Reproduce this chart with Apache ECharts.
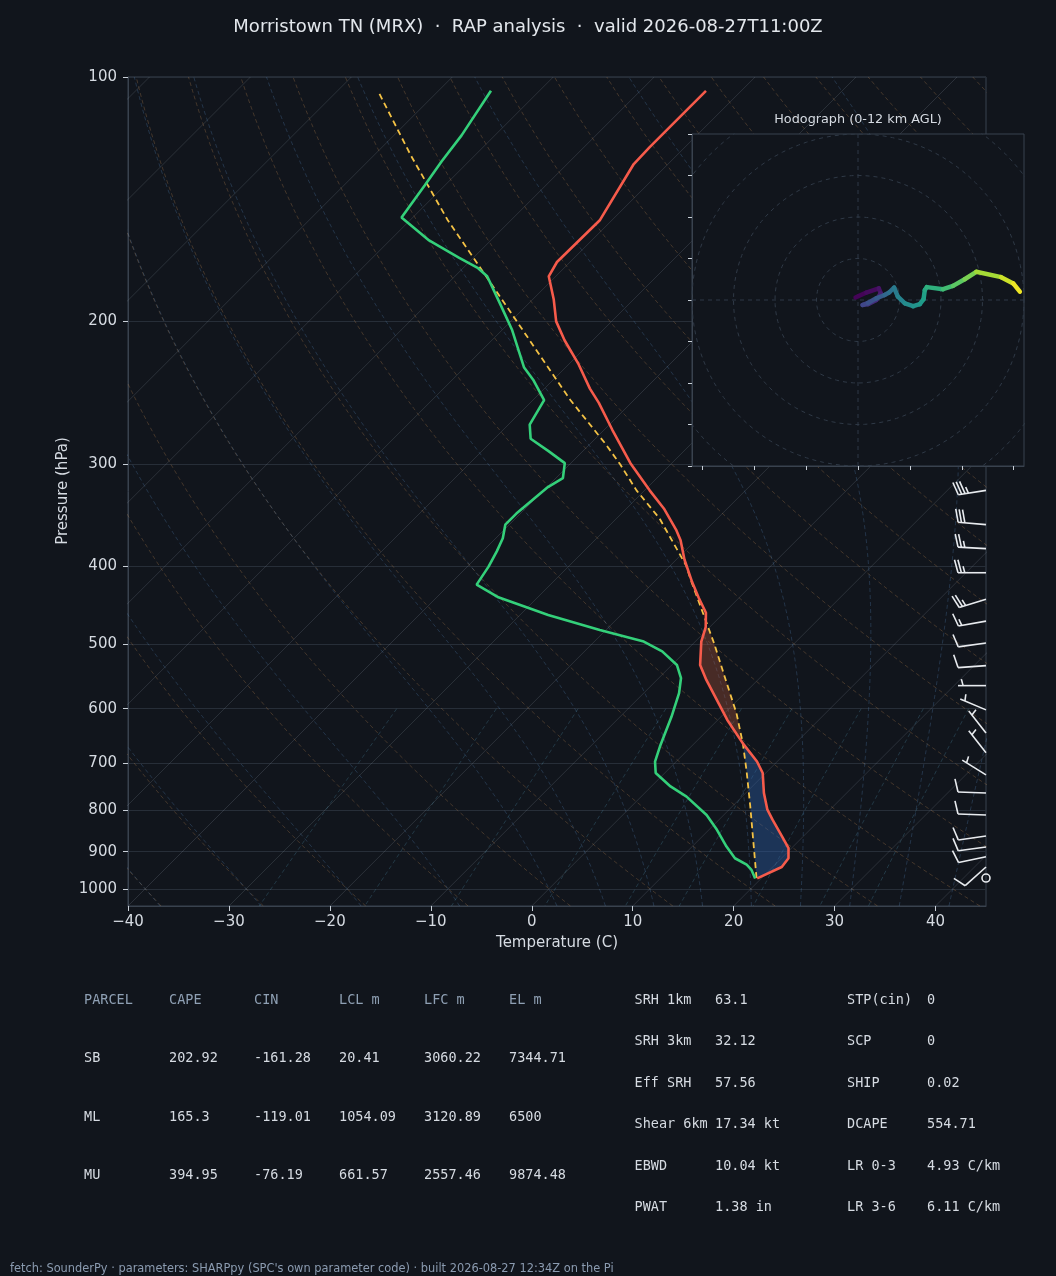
<!DOCTYPE html>
<html>
<head>
<meta charset="utf-8">
<title>Skew-T MRX</title>
<script src="https://cdn.jsdelivr.net/npm/echarts@6/dist/echarts.min.js"></script>
<style>
  html, body { margin: 0; padding: 0; background: #11151c; }
  #main { width: 1056px; height: 1276px; }
</style>
</head>
<body>
<div id="main"></div>
<script>
// --- sounding (hPa / degC) ---
var tempP = [104, 122, 128, 150, 169, 176, 188, 200, 211, 226, 242, 252, 272, 299, 323, 340, 361, 372, 393, 419, 438, 457, 476, 496, 530, 553, 619, 662, 697, 720, 762, 799, 822, 862, 891, 917, 940, 971];
var tempT = [-63.5, -63.5, -63.4, -61.2, -61.3, -60.7, -57.9, -55.5, -52.8, -49.0, -45.5, -43.2, -39.2, -34.1, -29.5, -26.3, -23.0, -21.5, -19.2, -16.2, -14.0, -11.8, -10.4, -9.4, -7.2, -5.1, 0.9, 4.8, 8.0, 9.7, 11.8, 13.8, 15.3, 17.9, 19.7, 20.7, 20.9, 19.6];

var dwptP = [104, 118, 127, 136, 149, 159, 167, 172, 176, 191, 205, 228, 236, 250, 268, 279, 289, 299, 312, 320, 345, 356, 370, 384, 401, 422, 437, 449, 460, 480, 496, 510, 530, 550, 574, 614, 668, 697, 720, 748, 770, 811, 846, 887, 917, 934, 948, 971];
var dwptT = [-84.8, -83.3, -82.7, -82.0, -81.1, -76.1, -71.4, -68.5, -66.8, -62.6, -59.0, -54.1, -52.0, -48.9, -47.9, -46.4, -43.4, -40.6, -39.3, -39.9, -40.4, -40.4, -39.3, -38.6, -37.9, -37.3, -34.0, -30.4, -27.2, -20.6, -15.1, -12.3, -9.5, -7.8, -6.5, -4.9, -3.1, -2.1, -0.9, 1.9, 4.5, 8.3, 10.8, 13.4, 15.4, 17.2, 18.2, 19.4];

var parcelP = [970, 887, 792, 714, 662, 608, 548, 498, 458, 416, 400, 350, 323, 300, 283, 250, 200, 150, 125, 104];
var parcelT = [19.5, 16.1, 11.8, 7.8, 4.8, 1.2, -3.6, -8.0, -12.0, -16.6, -18.4, -25.7, -30.8, -35.0, -38.5, -46.3, -59.4, -76.3, -86.3, -96.0];

// shading limits (hPa): surface, LFC, EL
var pSfc = 970, pLFC = 662, pEL = 478;

// wind barbs (hPa, kt, deg from)
var barbP = [323, 356, 381, 408, 440, 468, 498, 531, 562, 602, 643, 680, 724, 762, 811, 861, 888, 913, 940, 970];
var barbSpd = [35, 30, 25, 25, 25, 15, 10, 10, 5, 5, 5, 5, 5, 10, 10, 10, 10, 10, 10, 0];
var barbDir = [261, 275, 273, 270, 253, 260, 262, 266, 270, 293, 322, 322, 302, 272, 272, 262, 262, 258, 228, 0];

// hodograph (kt, km AGL)
var hodoU = [-0.6, 2.0, 5.0, 5.5, 4.4, 2.4, 1.1, 2.4, 4.4, 6.4, 7.5, 8.7, 9.6, 11.3, 13.3, 14.9, 15.8, 16.1, 16.6, 20.5, 22.9, 25.7, 28.5, 34.5, 37.4, 39.0];
var hodoV = [0.6, 1.8, 2.8, 1.6, 0.0, -1.0, -1.2, -0.7, 0.4, 1.2, 1.8, 3.0, 0.8, -0.8, -1.5, -1.0, 0.2, 2.4, 3.1, 2.6, 3.4, 5.0, 6.8, 5.5, 4.0, 2.0];
var hodoH = [0, 0.2, 0.5, 0.8, 1.3, 1.8, 2.3, 2.8, 3.2, 3.7, 4.2, 4.7, 5.2, 5.6, 6.0, 6.3, 6.6, 7.0, 7.3, 8.0, 8.6, 9.2, 9.9, 10.8, 11.4, 12.0];
var hodoRings = [10, 20, 30, 40, 50];
var hodoXTicks = [-37.5, -25, -12.5, 0, 12.5, 25, 37.5];

var pTicks = [100, 200, 300, 400, 500, 600, 700, 800, 900, 1000];
var tTicks = [-40, -30, -20, -10, 0, 10, 20, 30, 40];

// tables
var parcelCols = ['PARCEL', 'CAPE', 'CIN', 'LCL m', 'LFC m', 'EL m'];
var parcelRows = [
  ['SB', '202.92', '-161.28', '20.41', '3060.22', '7344.71'],
  ['ML', '165.3', '-119.01', '1054.09', '3120.89', '6500'],
  ['MU', '394.95', '-76.19', '661.57', '2557.46', '9874.48']
];
var paramsA = [['SRH 1km', '63.1'], ['SRH 3km', '32.12'], ['Eff SRH', '57.56'], ['Shear 6km', '17.34 kt'], ['EBWD', '10.04 kt'], ['PWAT', '1.38 in']];
var paramsB = [['STP(cin)', '0'], ['SCP', '0'], ['SHIP', '0.02'], ['DCAPE', '554.71'], ['LR 0-3', '4.93 C/km'], ['LR 3-6', '6.11 C/km']];

var titleText = 'Morristown TN (MRX)  \u00b7  RAP analysis  \u00b7  valid 2026-08-27T11:00Z';
var footText = "fetch: SounderPy \u00b7 parameters: SHARPpy (SPC's own parameter code) \u00b7 built 2026-08-27 12:34Z on the Pi";

// ------------------------------------------------------------------
var chart = echarts.init(document.getElementById('main'));

var BG = '#11151c', FRAME = '#39424e', TICK = '#c9d0d8', LABEL = '#d6dbe2';
var P_BOT = 1050, P_TOP = 100, T_MIN = -40, T_MAX = 45;
// skew so isotherms run at 45 deg on the 858 x 829 plot box
var SKEW = (T_MAX - T_MIN) * (829 / 858) / Math.log10(P_BOT / P_TOP);
function sx(t, p) { return t + SKEW * Math.log10(P_BOT / p); }
function pts(ps, ts) { return ps.map(function (p, i) { return [sx(ts[i], p), p]; }); }

// thermodynamic reference lines (diagram furniture)
var Rd = 287.04749, Cp = 1004.6662, Lv = 2.50084e6, EPS = 0.62195;
function esat(tc) { return 6.112 * Math.exp(17.67 * tc / (tc + 243.5)); }
function moistRate(lnp, tk) {
  var p = Math.exp(lnp), es = esat(tk - 273.15), rs = EPS * es / (p - es);
  return (Rd * tk + Lv * rs) / (Cp + Lv * Lv * rs * EPS / (Rd * tk * tk));
}
function moistLine(t0) {
  function run(pEnd, n) {
    var out = [], tk = t0 + 273.15, lnp = Math.log(1000), h = (Math.log(pEnd) - lnp) / n;
    for (var i = 0; i < n; i++) {
      var k1 = moistRate(lnp, tk);
      var k2 = moistRate(lnp + h / 2, tk + h * k1 / 2);
      var k3 = moistRate(lnp + h / 2, tk + h * k2 / 2);
      var k4 = moistRate(lnp + h, tk + h * k3);
      tk += h * (k1 + 2 * k2 + 2 * k3 + k4) / 6;
      lnp += h;
      out.push([tk - 273.15, Math.exp(lnp)]);
    }
    return out;
  }
  var all = run(P_BOT, 4).reverse().concat([[t0, 1000]], run(P_TOP, 80));
  return all.map(function (d) { return [sx(d[0], d[1]), d[1]]; });
}
function dryLine(t0) {
  var out = [];
  for (var i = 0; i <= 60; i++) {
    var p = P_BOT * Math.pow(P_TOP / P_BOT, i / 60);
    out.push([sx((t0 + 273.15) * Math.pow(p / 1000, Rd / Cp) - 273.15, p), p]);
  }
  return out;
}
function mixLine(w) {
  var out = [];
  for (var i = 0; i <= 20; i++) {
    var p = 600 + (P_BOT - 600) * i / 20;
    var l = Math.log(w * p / (EPS + w) / 6.112);
    out.push([sx(243.5 * l / (17.67 - l), p), p]);
  }
  return out;
}

var series = [];
function addLine(data, color, type, width, z, gi) {
  series.push({
    type: 'line', xAxisIndex: gi || 0, yAxisIndex: gi || 0, data: data,
    symbol: 'none', showSymbol: false, silent: true, z: z || 1, clip: true,
    lineStyle: { color: color, width: width || 1, type: type || 'solid' }
  });
}

var t;
for (t = -130; t <= 40; t += 10) addLine([[sx(t, P_BOT), P_BOT], [sx(t, P_TOP), P_TOP]], 'rgba(150,160,175,0.2)', 'solid', 1);
for (t = -40; t <= 240; t += 10) addLine(dryLine(t), 'rgba(195,140,85,0.32)', [4, 3], 0.9);
var moistT0 = [-40, -30, -20, -10];
for (t = 0; t <= 95; t += 5) moistT0.push(t);
moistT0.forEach(function (t0) { addLine(moistLine(t0), 'rgba(90,140,195,0.3)', [4, 3], 0.9); });
[0.0004, 0.001, 0.002, 0.004, 0.007, 0.01, 0.016, 0.024, 0.032].forEach(function (w) {
  addLine(mixLine(w), 'rgba(80,145,175,0.32)', [4, 3], 0.9);
});

// CAPE / CIN shading between parcel and environment
function interpT(ps, ts, q) {
  for (var i = 0; i < ps.length - 1; i++) {
    var a = ps[i], b = ps[i + 1];
    if ((q - a) * (q - b) <= 0) {
      var f = Math.log(q / a) / Math.log(b / a);
      return ts[i] + f * (ts[i + 1] - ts[i]);
    }
  }
  return NaN;
}
function band(pLo, pHi) {
  var out = [[sx(interpT(parcelP, parcelT, pLo), pLo), pLo]];
  parcelP.forEach(function (p, i) { if (p < pLo && p > pHi) out.push([sx(parcelT[i], p), p]); });
  out.push([sx(interpT(parcelP, parcelT, pHi), pHi), pHi]);
  out.push([sx(interpT(tempP, tempT, pHi), pHi), pHi]);
  tempP.forEach(function (p, i) { if (p < pLo && p > pHi) out.push([sx(tempT[i], p), p]); });
  out.push([sx(interpT(tempP, tempT, pLo), pLo), pLo]);
  return out;
}
var fills = [
  { poly: band(pLFC, pEL), color: 'rgba(190,90,60,0.32)' },
  { poly: band(pSfc, pLFC), color: 'rgba(45,95,170,0.42)' }
];
series.push({
  type: 'custom', xAxisIndex: 0, yAxisIndex: 0, z: 2, silent: true,
  data: [[0, 550], [0, 800]],
  renderItem: function (params, api) {
    var f = fills[params.dataIndex];
    return {
      type: 'polygon',
      shape: { points: f.poly.map(function (d) { return api.coord(d); }) },
      style: { fill: f.color }
    };
  }
});

addLine(pts(parcelP, parcelT), '#f4c245', [6, 4], 1.8, 4);
addLine(pts(dwptP, dwptT), '#34d07a', 'solid', 2.6, 5);
addLine(pts(tempP, tempT), '#f65b4b', 'solid', 2.6, 5);

// wind barbs along the right edge
series.push({
  type: 'custom', xAxisIndex: 0, yAxisIndex: 0, z: 6, silent: true,
  data: barbP.map(function (p, i) { return [T_MAX, p, barbSpd[i], barbDir[i]]; }),
  renderItem: function (params, api) {
    var base = api.coord([api.value(0), api.value(1)]);
    var spd = Math.round(api.value(2) / 5) * 5, dir = api.value(3) * Math.PI / 180;
    var st = { stroke: '#e8ebef', lineWidth: 1.6, fill: null };
    if (spd < 5) return { type: 'circle', shape: { cx: base[0], cy: base[1], r: 4 }, style: st };
    var L = 28, H = 13, W = 3.5, S = 3.4;
    var ux = Math.sin(dir), uy = -Math.cos(dir);
    var px = -uy, py = ux;
    var tip = [base[0] + ux * L, base[1] + uy * L];
    var kids = [{ type: 'line', shape: { x1: base[0], y1: base[1], x2: tip[0], y2: tip[1] }, style: st }];
    var full = Math.floor(spd / 10), half = spd % 10 >= 5, off = 0, a;
    for (var k = 0; k < full; k++) {
      a = [tip[0] - ux * off, tip[1] - uy * off];
      kids.push({ type: 'line', shape: { x1: a[0], y1: a[1], x2: a[0] + px * H + ux * W, y2: a[1] + py * H + uy * W }, style: st });
      off += S;
    }
    if (half) {
      if (full === 0) off = 1.5 * S;
      a = [tip[0] - ux * off, tip[1] - uy * off];
      kids.push({ type: 'line', shape: { x1: a[0], y1: a[1], x2: a[0] + px * H / 2 + ux * W / 2, y2: a[1] + py * H / 2 + uy * W / 2 }, style: st });
    }
    return { type: 'group', children: kids };
  }
});

// hodograph
hodoRings.forEach(function (r) {
  var c = [];
  for (var i = 0; i <= 120; i++) { var a = i / 120 * 2 * Math.PI; c.push([r * Math.cos(a), r * Math.sin(a)]); }
  addLine(c, '#2f3946', [4, 4], 1, 12, 1);
});
addLine([[-40, 0], [40, 0]], '#2f3946', [4, 4], 1, 12, 1);
addLine([[0, -40], [0, 40]], '#2f3946', [4, 4], 1, 12, 1);

var VIRIDIS = ['#440154', '#482878', '#3e4989', '#31688e', '#26828e', '#1f9e89', '#35b779', '#6ece58', '#b5de2b', '#fde725'];
function viridis(f) {
  f = Math.max(0, Math.min(1, f)) * (VIRIDIS.length - 1);
  var i = Math.min(Math.floor(f), VIRIDIS.length - 2), r = f - i;
  function ch(h, k) { return parseInt(h.substr(1 + 2 * k, 2), 16); }
  var rgb = [0, 1, 2].map(function (k) { return Math.round(ch(VIRIDIS[i], k) * (1 - r) + ch(VIRIDIS[i + 1], k) * r); });
  return 'rgb(' + rgb.join(',') + ')';
}
var hodoSeg = [];
for (var i = 0; i < hodoU.length - 1; i++) {
  hodoSeg.push([hodoU[i], hodoV[i], hodoU[i + 1], hodoV[i + 1], (hodoH[i] + hodoH[i + 1]) / 2]);
}
series.push({
  type: 'custom', xAxisIndex: 1, yAxisIndex: 1, z: 13, silent: true,
  data: hodoSeg, encode: { x: [0, 2], y: [1, 3] },
  renderItem: function (params, api) {
    var a = api.coord([api.value(0), api.value(1)]), b = api.coord([api.value(2), api.value(3)]);
    return {
      type: 'line', shape: { x1: a[0], y1: a[1], x2: b[0], y2: b[1] },
      style: { stroke: viridis(api.value(4) / 12), lineWidth: 4.5, lineCap: 'round' }
    };
  }
});

// texts
function txt(x, y, s, o) {
  o = o || {};
  var al = o.align || 'left';
  return {
    type: 'text', x: x, y: y, rotation: o.rot || 0, silent: true, z: 50,
    style: {
      text: s, fill: o.color || LABEL,
      font: (o.size || 13) + 'px ' + (o.family || '"DejaVu Sans"'),
      textAlign: al, textVerticalAlign: 'middle', align: al, verticalAlign: 'middle'
    }
  };
}
var MONO = '"DejaVu Sans Mono"';
var texts = [
  txt(528, 27, titleText, { size: 18, align: 'center', color: '#e3e7ec' }),
  txt(858, 120, 'Hodograph (0-12 km AGL)', { size: 12.8, align: 'center' }),
  txt(63, 491, 'Pressure (hPa)', { size: 15, align: 'center', rot: Math.PI / 2 }),
  txt(557, 943, 'Temperature (C)', { size: 15, align: 'center' }),
  txt(10, 1269, footText, { size: 11.4, color: '#8b9bb0' })
];
var colX = [84, 169, 254, 339, 424, 509];
parcelCols.forEach(function (h, j) { texts.push(txt(colX[j], 1000, h, { size: 13.5, family: MONO, color: '#8fa0b4' })); });
parcelRows.forEach(function (row, r) {
  row.forEach(function (v, j) { texts.push(txt(colX[j], 1058.5 + r * 58.7, v, { size: 13.5, family: MONO })); });
});
paramsA.forEach(function (row, r) {
  texts.push(txt(634.5, 1000 + r * 41.5, row[0], { size: 13.5, family: MONO }));
  texts.push(txt(715, 1000 + r * 41.5, row[1], { size: 13.5, family: MONO }));
});
paramsB.forEach(function (row, r) {
  texts.push(txt(847, 1000 + r * 41.5, row[0], { size: 13.5, family: MONO }));
  texts.push(txt(927, 1000 + r * 41.5, row[1], { size: 13.5, family: MONO }));
});

var option = {
  backgroundColor: BG,
  animation: false,
  textStyle: { fontFamily: 'DejaVu Sans' },
  grid: [
    { left: 128, top: 77, width: 858, height: 829, show: true, borderColor: FRAME, borderWidth: 1, backgroundColor: 'transparent', z: 0 },
    { left: 692, top: 134, width: 332, height: 332, show: true, borderColor: FRAME, borderWidth: 1, backgroundColor: BG, z: 10 }
  ],
  xAxis: [
    {
      gridIndex: 0, type: 'value', min: T_MIN, max: T_MAX, interval: 10,
      axisLine: { show: true, onZero: false, lineStyle: { color: FRAME } },
      axisTick: { show: true, length: 5, customValues: tTicks, lineStyle: { color: TICK } },
      axisLabel: { color: LABEL, fontSize: 15, margin: 9, customValues: tTicks, formatter: function (v) { return String(v).replace('-', '\u2212'); } },
      splitLine: { show: false }
    },
    {
      gridIndex: 1, type: 'value', min: -40, max: 40, z: 11,
      axisLine: { show: true, onZero: false, lineStyle: { color: FRAME } },
      axisTick: { show: true, length: 4, customValues: hodoXTicks, lineStyle: { color: TICK } },
      axisLabel: { show: false }, splitLine: { show: false }
    }
  ],
  yAxis: [
    {
      gridIndex: 0, type: 'log', logBase: 10, min: P_TOP, max: P_BOT, inverse: true,
      axisLine: { show: true, onZero: false, lineStyle: { color: FRAME } },
      axisTick: { show: true, length: 5, customValues: pTicks, lineStyle: { color: TICK } },
      axisLabel: { color: LABEL, fontSize: 15, margin: 11, customValues: pTicks, formatter: function (v) { return String(Math.round(v)); } },
      splitLine: { show: true, lineStyle: { color: '#272e38', width: 1 } }
    },
    {
      gridIndex: 1, type: 'value', min: -40, max: 40, interval: 10, z: 11,
      axisLine: { show: true, onZero: false, lineStyle: { color: FRAME } },
      axisTick: { show: true, length: 4, lineStyle: { color: TICK } },
      axisLabel: { show: false }, splitLine: { show: false }
    }
  ],
  graphic: { elements: texts },
  series: series
};
chart.setOption(option);
</script>
</body>
</html>
